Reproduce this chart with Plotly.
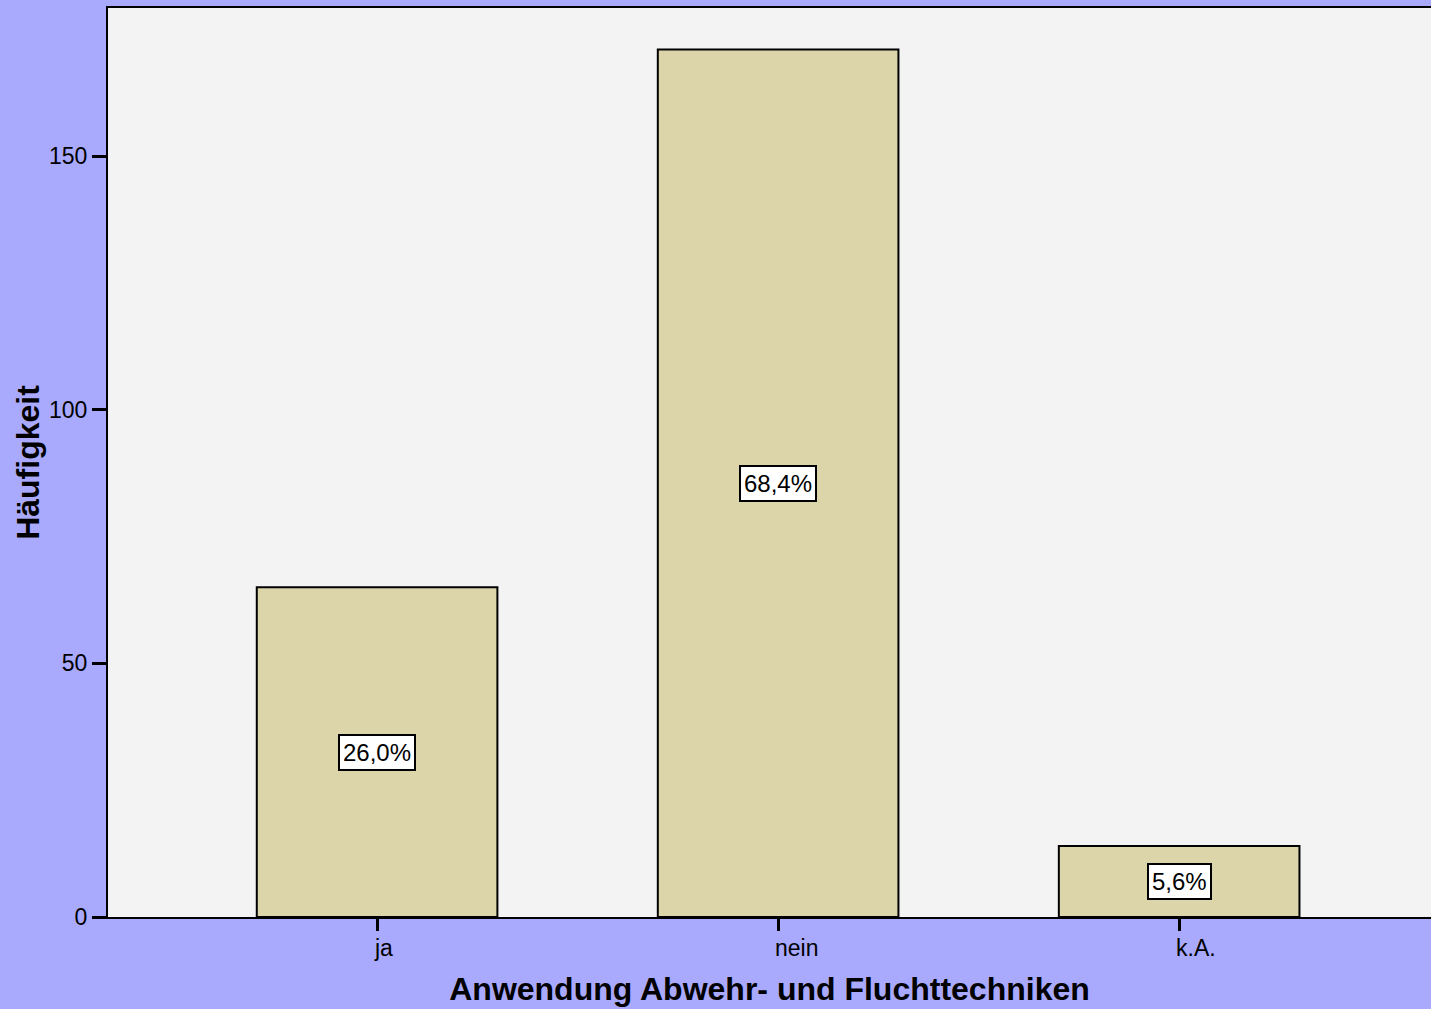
import plotly.graph_objects as go

categories = ["ja", "nein", "k.A."]
counts = [65, 171, 14]
y_ticks = [0, 50, 100, 150]

total = sum(counts)
pct_labels = [f"{c / total * 100:.1f}%".replace(".", ",") for c in counts]

FONT = "Liberation Sans, Arial, sans-serif"

fig = go.Figure()
fig.add_trace(go.Bar(
    x=list(range(len(categories))),
    y=counts,
    width=0.6,
    marker=dict(color="#DCD5A9", line=dict(color="black", width=2)),
    hoverinfo="skip",
))

annotations = []
for i, (c, lab) in enumerate(zip(counts, pct_labels)):
    annotations.append(dict(
        x=i, y=c / 2, xref="x", yref="y", text=lab, showarrow=False,
        font=dict(family=FONT, size=24, color="black"),
        bgcolor="white", bordercolor="black", borderwidth=2, borderpad=3,
    ))
for i, cat in enumerate(categories):
    annotations.append(dict(
        x=i, y=0, xref="x", yref="paper", text=cat, showarrow=False,
        xanchor="left", yanchor="top", xshift=-5, yshift=-16,
        font=dict(family=FONT, size=23, color="black"),
    ))

fig.update_layout(
    width=1431, height=1009,
    margin=dict(l=108, r=0, t=8, b=92),
    paper_bgcolor="#A9AAFE",
    plot_bgcolor="#F3F3F3",
    showlegend=False,
    annotations=annotations,
    xaxis=dict(
        range=[-0.671, 2.628],
        tickvals=list(range(len(categories))),
        showticklabels=False,
        ticks="outside", ticklen=12, tickwidth=3, tickcolor="black",
        showline=True, linecolor="black", linewidth=2, mirror=True,
        showgrid=False, zeroline=False,
        title=dict(text="<b>Anwendung Abwehr- und Fluchttechniken</b>",
                   font=dict(family=FONT, size=32, color="black"), standoff=48),
    ),
    yaxis=dict(
        range=[0, 179.2],
        tickvals=y_ticks,
        ticks="outside", ticklen=14, tickwidth=3, tickcolor="black",
        tickfont=dict(family=FONT, size=23, color="black"),
        showline=True, linecolor="black", linewidth=2,
        showgrid=False, zeroline=False,
        title=dict(text="<b>Häufigkeit</b>",
                   font=dict(family=FONT, size=32, color="black"), standoff=0),
    ),
)

fig.write_html(
    "out.html",
    config={"displayModeBar": False},
    post_script="document.body.style.margin='0';document.body.style.overflow='hidden';",
)
